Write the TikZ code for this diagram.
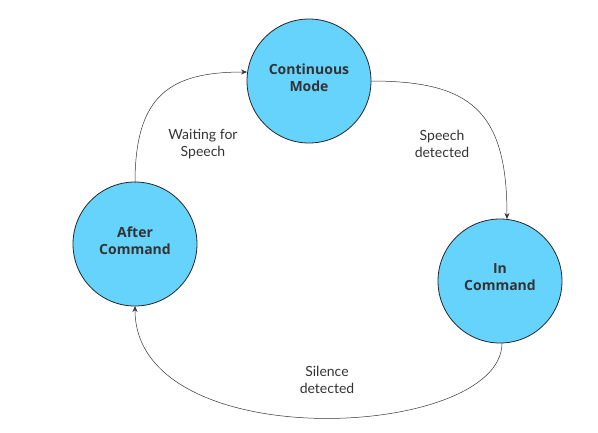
\documentclass[tikz,border=0pt]{standalone}
\usepackage{fontspec}
\setmainfont{Open Sans}
\newfontfamily\labelfont{Lato}
\usetikzlibrary{arrows.meta}
\definecolor{stateblue}{HTML}{66D3FD}
\definecolor{txtgray}{HTML}{333333}
\tikzset{
  statenode/.style={circle, draw=black!85, line width=0.8pt, fill=stateblue, minimum size=124pt, inner sep=0pt},
  statetext/.style={label={[align=center, font=\bfseries\fontsize{14}{17}\selectfont, text=txtgray, yshift=3.5pt]center:#1}},
  edgelabel/.style={align=center, font=\labelfont\fontsize{14}{17}\selectfont, text=txtgray},
  conn/.style={draw=black!80, line width=0.5pt, -{Stealth[length=6pt,width=5pt]}}
}
\begin{document}
\begin{tikzpicture}[x=1pt,y=-1pt]
\useasboundingbox (0,0) rectangle (598,432);
\node[statenode, statetext={Continuous\\Mode}] (cont) at (309,81) {};
\node[statenode, statetext={After\\Command}] (after) at (135,244) {};
\node[statenode, statetext={In\\Command}] (inc) at (500,281) {};
\coordinate (a1) at (135,183);
\coordinate (c1) at (247,72);
\coordinate (c2) at (371,81);
\coordinate (i1) at (507,219);
\coordinate (i2) at (502,343);
\coordinate (a2) at (135,306);
\draw[conn] (a1) .. controls (135,95) and (170,72) .. (c1);
\draw[conn] (c2) .. controls (470,81) and (507,110) .. (i1);
\draw[conn] (i2) .. controls (502,440) and (135,458) .. (a2);
\node[edgelabel] (l1) at (203,144) {Waiting for\\Speech};
\node[edgelabel] (l2) at (442,144) {Speech\\detected};
\node[edgelabel] (l3) at (327,380) {Silence\\detected};
\end{tikzpicture}
\end{document}
